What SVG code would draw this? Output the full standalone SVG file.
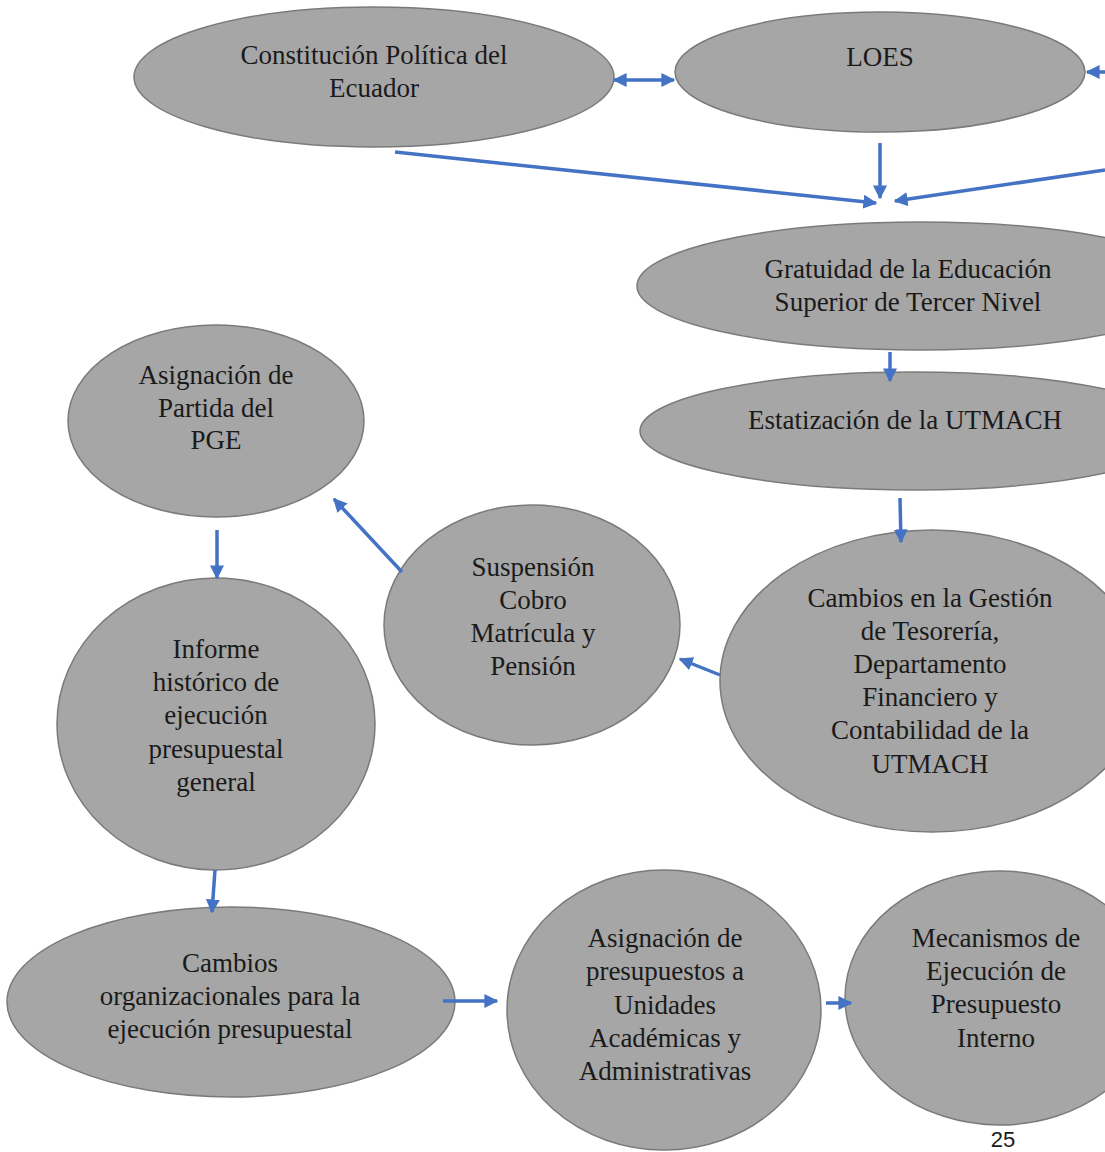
<svg xmlns="http://www.w3.org/2000/svg" width="1105" height="1152" viewBox="0 0 1105 1152">
<defs>
<marker id="ah" viewBox="0 0 10 10" refX="9" refY="5" markerWidth="14" markerHeight="14" markerUnits="userSpaceOnUse" orient="auto-start-reverse">
<path d="M0,0 L10,5 L0,10 z" fill="#4472c4"/>
</marker>
</defs>
<style>
.n{fill:#a6a6a6;stroke:#7a7a7a;stroke-width:1.5}
.t{font-family:'Liberation Serif','Times New Roman',serif;font-size:27px;fill:#1a1a1a;text-anchor:middle}
.c{stroke:#4472c4;stroke-width:3.5;fill:none;marker-end:url(#ah)}
</style>
<rect width="1105" height="1152" fill="#ffffff"/>
<g id="constitucion"><ellipse class="n" cx="374" cy="77" rx="240" ry="70"/>
<text class="t" x="374" y="64">Constitución Política del</text><text class="t" x="374" y="97">Ecuador</text></g>
<g id="loes"><ellipse class="n" cx="880" cy="72" rx="205" ry="60"/>
<text class="t" x="880" y="66">LOES</text></g>
<g id="gratuidad"><ellipse class="n" cx="920" cy="286" rx="283" ry="64"/>
<text class="t" x="908" y="278">Gratuidad de la Educación</text><text class="t" x="908" y="311">Superior de Tercer Nivel</text></g>
<g id="estatizacion"><ellipse class="n" cx="913" cy="431" rx="273" ry="59"/>
<text class="t" x="905" y="429">Estatización de la UTMACH</text></g>
<g id="cambios-gestion"><ellipse class="n" cx="932" cy="681" rx="212" ry="151"/>
<text class="t" x="930" y="607">Cambios en la Gestión</text><text class="t" x="930" y="640">de Tesorería,</text><text class="t" x="930" y="673">Departamento</text><text class="t" x="930" y="706">Financiero y</text><text class="t" x="930" y="739">Contabilidad de la</text><text class="t" x="930" y="773">UTMACH</text></g>
<g id="suspension"><ellipse class="n" cx="532" cy="625" rx="148" ry="120"/>
<text class="t" x="533" y="576">Suspensión</text><text class="t" x="533" y="609">Cobro</text><text class="t" x="533" y="642">Matrícula y</text><text class="t" x="533" y="675">Pensión</text></g>
<g id="asignacion-partida"><ellipse class="n" cx="216" cy="421" rx="148" ry="96"/>
<text class="t" x="216" y="384">Asignación de</text><text class="t" x="216" y="417">Partida del</text><text class="t" x="216" y="449">PGE</text></g>
<g id="informe"><ellipse class="n" cx="216" cy="724" rx="159" ry="146"/>
<text class="t" x="216" y="658">Informe</text><text class="t" x="216" y="691">histórico de</text><text class="t" x="216" y="724">ejecución</text><text class="t" x="216" y="758">presupuestal</text><text class="t" x="216" y="791">general</text></g>
<g id="cambios-org"><ellipse class="n" cx="231" cy="1002" rx="224" ry="95"/>
<text class="t" x="230" y="972">Cambios</text><text class="t" x="230" y="1005">organizacionales para la</text><text class="t" x="230" y="1038">ejecución presupuestal</text></g>
<g id="asignacion-presupuestos"><ellipse class="n" cx="664" cy="1010" rx="157" ry="140"/>
<text class="t" x="665" y="947">Asignación de</text><text class="t" x="665" y="980">presupuestos a</text><text class="t" x="665" y="1014">Unidades</text><text class="t" x="665" y="1047">Académicas y</text><text class="t" x="665" y="1080">Administrativas</text></g>
<g id="mecanismos"><ellipse class="n" cx="1000" cy="998" rx="155" ry="127"/>
<text class="t" x="996" y="947">Mecanismos de</text><text class="t" x="996" y="980">Ejecución de</text><text class="t" x="996" y="1013">Presupuesto</text><text class="t" x="996" y="1047">Interno</text></g>
<g id="connectors">
<line class="c" x1="614" y1="80" x2="674" y2="80" marker-start="url(#ah)"/>
<line class="c" x1="1105" y1="72" x2="1087" y2="72"/>
<line class="c" x1="395" y1="152" x2="876" y2="203"/>
<line class="c" x1="880" y1="143" x2="880" y2="198"/>
<line class="c" x1="1105" y1="170" x2="895" y2="201"/>
<line class="c" x1="890" y1="352" x2="890" y2="381"/>
<line class="c" x1="900" y1="498" x2="901" y2="542"/>
<line class="c" x1="720" y1="675" x2="680" y2="659"/>
<line class="c" x1="402" y1="572" x2="334" y2="499"/>
<line class="c" x1="217" y1="530" x2="217" y2="578"/>
<line class="c" x1="215" y1="870" x2="212" y2="912"/>
<line class="c" x1="443" y1="1001" x2="497" y2="1001"/>
<line class="c" x1="826" y1="1003" x2="851" y2="1003"/>
</g>
<text x="1003" y="1147" font-family="'Liberation Sans', Arial, sans-serif" font-size="22" fill="#1a1a1a" text-anchor="middle">25</text>
</svg>
